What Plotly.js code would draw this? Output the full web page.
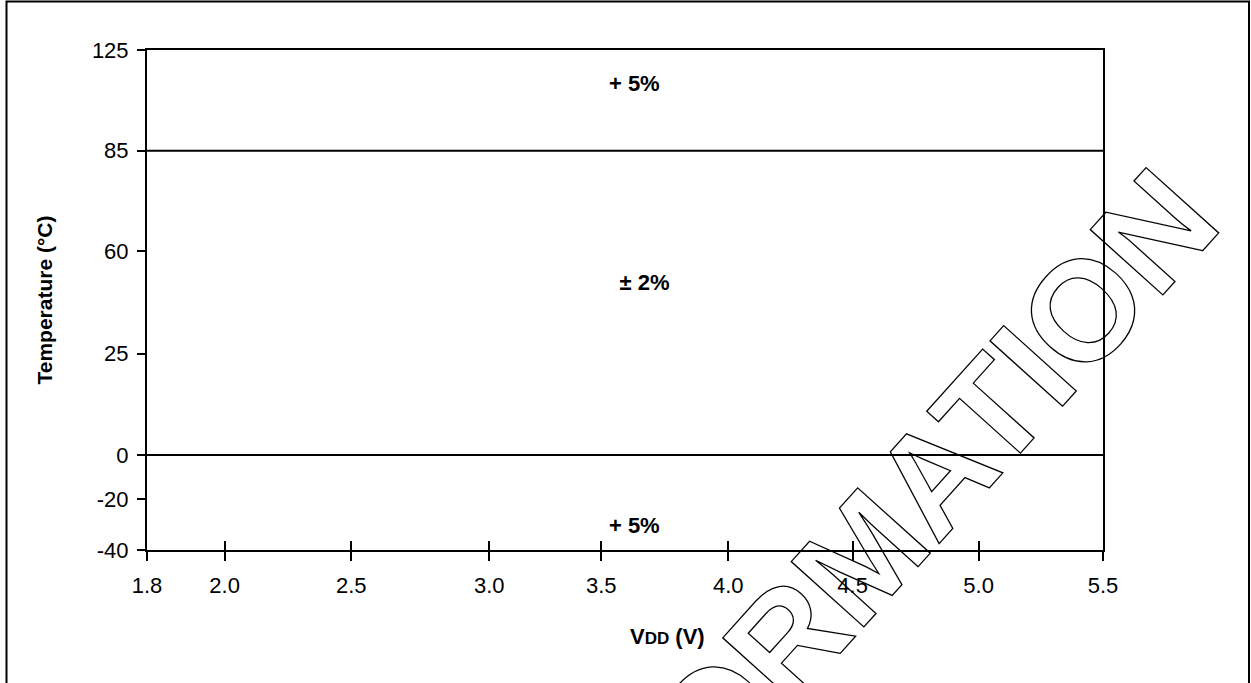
<!DOCTYPE html>
<html>
<head>
<meta charset="utf-8">
<script src="https://cdn.plot.ly/plotly-3.0.1.min.js"></script>
<style>
  html, body { margin: 0; padding: 0; background: #fff; }
  #chart { width: 1251px; height: 683px; }
</style>
</head>
<body>
<div id="chart"></div>
<script>
// ---- data ----
const vddTicks = [1.8, 2.0, 2.5, 3.0, 3.5, 4.0, 4.5, 5.0, 5.5];
const vddTickLabels = ['1.8', '2.0', '2.5', '3.0', '3.5', '4.0', '4.5', '5.0', '5.5'];
const tempTicks = [125, 85, 60, 25, 0, -20, -40];
const tempTickLabels = ['125', '85', '60', '25', '0', '-20', '-40'];
const boundaryTemps = [85, 0];
const vddSpan = [1.8, 5.5];
const regionLabels = ['+ 5%', '± 2%', '+ 5%'];
const regionTemps = [111, 48.5, -31];
const regionVdd = [3.63, 3.67, 3.63];

// ---- axis scale (the chart uses unevenly spaced tick slots) ----
const xSlots = [0, 77.6, 204.3, 342.3, 454.3, 581.3, 705.6, 831.6, 956];
const ySlots = [500, 399.3, 299, 196.3, 95, 51, 0];

function mapTo(v, ticks, slots) {
  for (let i = 0; i < ticks.length - 1; i++) {
    const a = ticks[i], b = ticks[i + 1];
    if ((v >= Math.min(a, b)) && (v <= Math.max(a, b))) {
      return slots[i] + (v - a) / (b - a) * (slots[i + 1] - slots[i]);
    }
  }
  return null;
}
const X = v => mapTo(v, vddTicks, xSlots);
const Y = t => mapTo(t, tempTicks, ySlots);

const FONT = 'Liberation Sans, Arial, Helvetica, sans-serif';

const traces = [];
boundaryTemps.forEach(t => {
  traces.push({
    x: vddSpan.map(X), y: vddSpan.map(() => Y(t)),
    mode: 'lines', line: {color: '#000', width: 2},
    hoverinfo: 'skip', showlegend: false, cliponaxis: false
  });
});
traces.push({
  x: regionVdd.map(X), y: regionTemps.map(Y), text: regionLabels,
  mode: 'text', textposition: 'middle center',
  textfont: {family: FONT, size: 22, color: '#000', weight: 700},
  hoverinfo: 'skip', showlegend: false
});
traces.push({x: [], y: [], xaxis: 'x2', mode: 'lines', showlegend: false, hoverinfo: 'skip'});

const layout = {
  width: 1251, height: 683,
  margin: {l: 147, r: 148, t: 50, b: 133},
  paper_bgcolor: '#fff', plot_bgcolor: '#fff',
  font: {family: FONT, color: '#000'},
  showlegend: false,
  xaxis: {
    range: [0, 956], tickmode: 'array', tickvals: xSlots, ticktext: vddTickLabels,
    ticks: 'outside', ticklen: 9, tickwidth: 2, tickcolor: '#000',
    showline: true, linewidth: 2, linecolor: '#000', mirror: true,
    showgrid: false, zeroline: false, fixedrange: true,
    tickfont: {family: FONT, size: 22, color: '#000'}, ticklabelstandoff: 6
  },
  xaxis2: {
    range: [0, 956], overlaying: 'x', anchor: 'y', side: 'bottom',
    tickmode: 'array', tickvals: xSlots, showticklabels: false,
    ticks: 'inside', ticklen: 9, tickwidth: 2, tickcolor: '#000',
    showline: false, showgrid: false, zeroline: false, fixedrange: true
  },
  yaxis: {
    range: [0, 500], tickmode: 'array', tickvals: ySlots, ticktext: tempTickLabels,
    ticks: 'outside', ticklen: 8, tickwidth: 2, tickcolor: '#000',
    showline: true, linewidth: 2, linecolor: '#000', mirror: true,
    showgrid: false, zeroline: false, fixedrange: true,
    tickfont: {family: FONT, size: 22, color: '#000'}, ticklabelstandoff: 4,
    title: {text: 'Temperature (°C)', font: {family: FONT, size: 21, color: '#000', weight: 700}, standoff: 34}
  },
  annotations: [
    {
      xref: 'paper', yref: 'paper', x: (667 - 147) / 956, y: (550 - 636) / 500,
      xanchor: 'center', yanchor: 'middle', showarrow: false,
      text: 'V<span style="font-size:17px">DD</span> (V)',
      font: {family: FONT, size: 22, color: '#000', weight: 700}
    },
    {
      xref: 'paper', yref: 'paper', x: (856 - 147) / 956, y: (550 - 561) / 500,
      xanchor: 'center', yanchor: 'middle', showarrow: false, textangle: -48,
      text: 'INFORMATION',
      font: {family: FONT, size: 142, color: '#000', weight: 700}
    }
  ],
  shapes: [
    {
      type: 'rect', xref: 'paper', yref: 'paper',
      x0: (6.5 - 147) / 956, x1: (1249 - 147) / 956,
      y0: (550 - 760) / 500, y1: (550 - 1.5) / 500,
      line: {color: '#000', width: 2}, fillcolor: 'rgba(0,0,0,0)', layer: 'above'
    }
  ]
};

Plotly.newPlot('chart', traces, layout, {displayModeBar: false, staticPlot: true}).then(gd => {
  gd.querySelectorAll('.annotation-text').forEach(t => {
    if (t.textContent.indexOf('INFORMATION') >= 0) {
      t.style.fill = 'none';
      t.style.stroke = '#000';
      t.style.strokeWidth = '1.3px';
    }
  });
});
</script>
</body>
</html>
